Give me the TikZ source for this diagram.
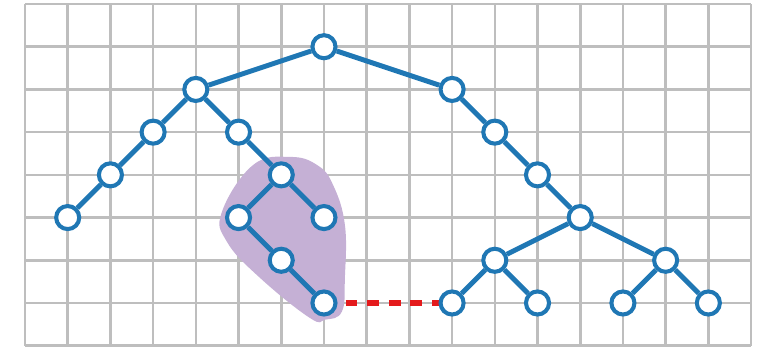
\documentclass[tikz,border=0pt]{standalone}
\usepackage{xcolor}
\usepackage{tikz}
\usetikzlibrary{positioning,calc}

\definecolor{treeblue}{HTML}{1F77B4}
\definecolor{linkred}{HTML}{E41A1C}
\definecolor{blobpurple}{HTML}{C5B0D5}
\definecolor{gridgray}{HTML}{BEBEBE}

\pgfdeclarelayer{bg}
\pgfsetlayers{bg,main}

\tikzset{
  vertex/.style={circle, draw=treeblue, fill=white, line width=2.7pt,
    minimum size=0.54cm, inner sep=0pt},
  edge/.style={treeblue, line width=3.3pt},
  link/.style={linkred, line width=4pt, dash pattern=on 7.8pt off 6.6pt},
  gridline/.style={gridgray, line width=1.7pt}
}

\begin{document}
\begin{tikzpicture}
\useasboundingbox (-0.585,0.094) rectangle (17.42,-8.117);

% Tree vertices
\foreach \name/\x/\y in {root/7/1, L/4/2, R/10/2, LL/3/3, LR/5/3,
  LLL/2/4, LLLL/1/5, LRR/6/4, s1/5/5, s2/7/5, s3/6/6, s4/7/7,
  R1/11/3, R2/12/4, R3/13/5, R4/11/6, R5/15/6,
  R6/10/7, R7/12/7, R8/14/7, R9/16/7}{
  \node[vertex] (\name) at (\x,-\y) {};
}

\begin{pgfonlayer}{bg}
% Grid
\foreach \x in {0,...,17}{
  \draw[gridline] (\x,0) -- (\x,-8);
}
\foreach \y in {0,...,8}{
  \draw[gridline] (0,-\y) -- (17,-\y);
}

% Highlighted subtree
\fill[blobpurple] plot[smooth cycle, tension=0.7] coordinates {
  (6.21,-3.58)(6.84,-3.77)(7.21,-4.23)(7.49,-5.17)(7.49,-6.41)
  (7.42,-7.20)(7.03,-7.39)(6.67,-7.35)(5.50,-6.41)(4.73,-5.57)
  (4.61,-4.87)(5.34,-3.77)
};

% Tree edges
\foreach \u/\v in {root/L, root/R, L/LL, LL/LLL, LLL/LLLL, L/LR, LR/LRR,
  LRR/s1, LRR/s2, s1/s3, s3/s4, R/R1, R1/R2, R2/R3, R3/R4, R3/R5,
  R4/R6, R4/R7, R5/R8, R5/R9}{
  \draw[edge] (\u) -- (\v);
}

% Dashed link
\draw[link] (s4.center) -- (R6.center);
\end{pgfonlayer}
\end{tikzpicture}
\end{document}
